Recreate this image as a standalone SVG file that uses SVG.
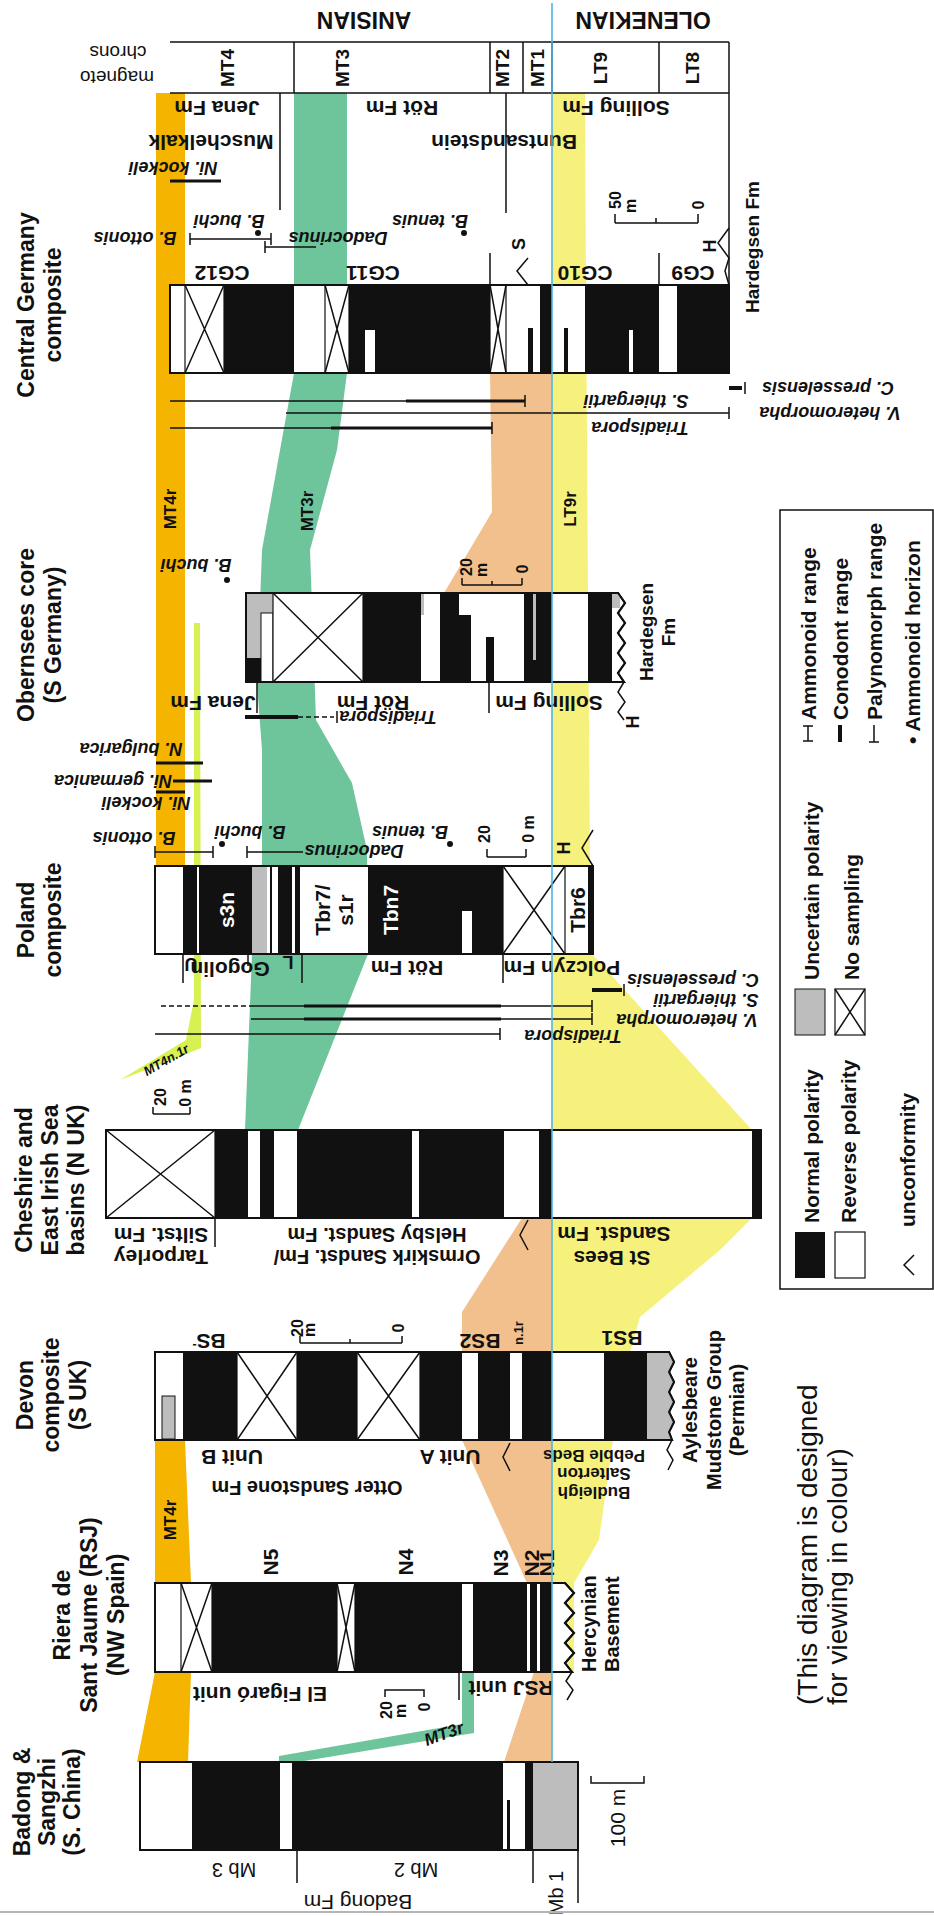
<svg xmlns="http://www.w3.org/2000/svg" width="934" height="1916" viewBox="0 0 934 1916">
<style>
text{font-family:"Liberation Sans",Arial,Helvetica,sans-serif;font-weight:bold;dominant-baseline:central;text-anchor:middle;fill:#111}
.n{font-weight:normal}
.it{font-style:italic}
.st{text-anchor:start}
.wt{fill:#fff}
.h{font-size:23px}
.f21{font-size:21px}
.f20{font-size:20px}
.f19{font-size:19px}
.f18{font-size:18px}
.f17{font-size:17px}
.f16{font-size:16px}
.f13{font-size:13px}
.note{font-size:28px;font-weight:normal}
.bar{fill:#fff;stroke:#111;stroke-width:2}
.k{fill:#111}
.g{fill:#bdbdbd}
.gs{fill:#bdbdbd;stroke:#111;stroke-width:1}
.xb{fill:#fff;stroke:#111;stroke-width:1.2}
.ln{stroke:#111;stroke-width:1.5;fill:none}
.tk{stroke:#111;stroke-width:4;fill:none}
.md{stroke:#111;stroke-width:3;fill:none}
.ds{stroke:#111;stroke-width:1.5;fill:none;stroke-dasharray:5 3}
.or{fill:#F5B400}
.gr{fill:#6EC59C}
.pe{fill:#F2C08C}
.ye{fill:#F6F17C}
.li{fill:#D6F152}
.bl{stroke:#4FB5E4;stroke-width:1.6}
</style>

<!-- correlation bands -->
<g id="bands">
<polygon class="ye" points="552,93 585,93 586,285 588,593 590,866 592,954 752,1130 752,1218 720,1250 640,1317 630,1352 613,1440 599,1540 574,1583 574,1672 552,1672"/>
<polygon class="pe" points="490,373 552,373 552,593 444,593 492,512"/>
<polygon class="pe" points="522,1218 552,1218 552,1352 462,1352 462,1312"/>
<polygon class="pe" points="462,1440 552,1440 552,1583 527,1583"/>
<polygon class="pe" points="534,1672 552,1672 552,1762 504,1762"/>
<polygon class="gr" points="294,93 347,93 347,373 337,450 310,550 316,720 352,783 367,850 368,954 298,1130 245,1130 252,954 262,866 262,750 257,683 262,550 280,450 294,373"/>
<polygon class="gr" points="462,1672 474,1672 474,1733 292,1763 279,1763 279,1756 462,1724"/>
<polygon class="or" points="156,93 185,93 185,866 156,866"/>
<polygon class="or" points="155,1440 185,1440 191,1583 191,1672 188,1762 137,1762 155,1672"/>
<polygon class="li" points="194,623 200,623 201,1048 120,1080 186,1040 194,1000"/>
<text class="f17" transform="translate(170,509) rotate(-90)">MT4r</text>
<text class="f17" transform="translate(307,511) rotate(-90)">MT3r</text>
<text class="f17" transform="translate(570,509) rotate(-90)">LT9r</text>
<text class="f17" transform="translate(170,1520) rotate(-90)">MT4r</text>
<text class="f13 it" transform="translate(166,1060) rotate(-30)">MT4n.1r</text>
<text class="f17 it" transform="translate(444,1734) rotate(-20)">MT3r</text>
</g>

<!-- time scale header -->
<g id="timescale">
<text class="h" transform="translate(643,20) rotate(180)">OLENEKIAN</text>
<text class="h" transform="translate(364,20) rotate(180)">ANISIAN</text>
<text class="f19 n" transform="translate(118,52) rotate(180)">chrons</text>
<text class="f19 n" transform="translate(117,77) rotate(180)">magneto</text>
<path class="ln" d="M170,42 H729 M170,93 H729 M294,42 V93 M490,42 V93 M523,42 V93 M552,42 V93 M659,42 V93 M729,42 V285"/>
<text class="f19" transform="translate(227,68) rotate(-90)">MT4</text>
<text class="f19" transform="translate(342,68) rotate(-90)">MT3</text>
<text class="f19" transform="translate(502,68) rotate(-90)">MT2</text>
<text class="f19" transform="translate(537,68) rotate(-90)">MT1</text>
<text class="f19" transform="translate(600,68) rotate(-90)">LT9</text>
<text class="f19" transform="translate(692,68) rotate(-90)">LT8</text>
</g>

<!-- Central Germany composite -->
<g id="central-germany">
<text class="h" transform="translate(26,305) rotate(-90)">Central Germany</text>
<text class="h" transform="translate(53,305) rotate(-90)">composite</text>
<path class="ln" d="M280,93 V210 M506,93 V213 M490,253 V285 M659,253 V285"/>
<text class="f21" transform="translate(217,108) rotate(180)">Jena Fm</text>
<text class="f21" transform="translate(402,108) rotate(180)">Röt Fm</text>
<text class="f21" transform="translate(616,108) rotate(180)">Solling Fm</text>
<text class="f21" transform="translate(211,142) rotate(180)">Muschelkalk</text>
<text class="f21" transform="translate(504,142) rotate(180)">Buntsandstein</text>
<text class="f18 it" transform="translate(173,168) rotate(180)">Ni. kockeli</text>
<path class="md" d="M170,181 H221"/>
<text class="f18 it" transform="translate(229,221) rotate(180)">B. buchi</text>
<circle cx="258" cy="233" r="3" class="k"/>
<text class="f18 it" transform="translate(135,238) rotate(180)">B. ottonis</text>
<path class="ln" d="M190,239 H271 M190,233 V245 M271,233 V245"/>
<text class="f18 it" transform="translate(338,238) rotate(180)">Dadocrinus</text>
<path class="ln" d="M265,247 H316 M265,241 V253"/>
<text class="f18 it" transform="translate(430,221) rotate(180)">B. tenuis</text>
<circle cx="464" cy="233" r="3" class="k"/>
<text class="f18" transform="translate(519,244) rotate(-90)">S</text>
<path class="ln" d="M528,258 L517,271 L528,285"/>
<text class="f21" transform="translate(222,273) rotate(180)">CG12</text>
<text class="f21" transform="translate(373,273) rotate(180)">CG11</text>
<text class="f21" transform="translate(585,273) rotate(180)">CG10</text>
<text class="f21" transform="translate(693,273) rotate(180)">CG9</text>
<path class="ln" d="M615,223 H698 M615,223 V214 M698,223 V214 M656,223 V218"/>
<text class="f16" transform="translate(615,200) rotate(-90)">50</text>
<text class="f16" transform="translate(630,206) rotate(-90)">m</text>
<text class="f16" transform="translate(698,205) rotate(-90)">0</text>
<text class="f18" transform="translate(710,246) rotate(-90)">H</text>
<path class="ln" d="M729,228 L718,243 L729,258 L725,271 L729,285"/>
<text class="f19" transform="translate(752,247) rotate(-90)">Hardegsen Fm</text>
<rect class="bar" x="170" y="285" width="559" height="88"/>
<rect class="k" x="224" y="285" width="70" height="88"/>
<rect class="k" x="349" y="285" width="141" height="88"/>
<rect class="k" x="540" y="285" width="12" height="88"/>
<rect class="k" x="585" y="285" width="74" height="88"/>
<rect class="k" x="677" y="285" width="52" height="88"/>
<rect fill="#fff" x="365" y="330" width="10" height="42"/>
<rect fill="#fff" x="629" y="330" width="4" height="42"/>
<rect class="k" x="528" y="328" width="5" height="45"/>
<rect class="k" x="564" y="328" width="4" height="45"/>
<rect class="xb" x="185" y="285" width="39" height="88"/><path class="ln" d="M185,285 L224,373 M224,285 L185,373" stroke-width="1.2"/>
<rect class="xb" x="325" y="285" width="24" height="88"/><path class="ln" d="M325,285 L349,373 M349,285 L325,373" stroke-width="1.2"/>
<rect class="xb" x="490" y="285" width="16" height="88"/><path class="ln" d="M490,285 L506,373 M506,285 L490,373" stroke-width="1.2"/>
<rect x="170" y="285" width="559" height="88" fill="none" stroke="#111" stroke-width="2"/>
<path class="tk" d="M729,388 H742"/><path class="ln" d="M745,382 V394"/>
<text class="f18 it" transform="translate(828,388) rotate(180)">C. presselensis</text>
<path class="ln" d="M170,401 H525 M525,395 V407"/><path class="md" d="M406,401 H525"/>
<text class="f18 it" transform="translate(636,401) rotate(180)">S. thiergartii</text>
<path class="ln" d="M286,413 H729 M729,407 V419"/>
<text class="f18 it" transform="translate(830,413) rotate(180)">V. heteromorpha</text>
<path class="ln" d="M170,428 H492 M492,422 V434"/><path class="md" d="M331,428 H492"/>
<text class="f18 it" transform="translate(640,428) rotate(180)">Triadispora</text>
</g>

<!-- Obernsees core -->
<g id="obernsees">
<text class="h" transform="translate(26,635) rotate(-90)">Obernsees core</text>
<text class="h" transform="translate(53,635) rotate(-90)">(S Germany)</text>
<text class="f18 it" transform="translate(196,565) rotate(180)">B. buchi</text>
<circle cx="227" cy="580" r="3" class="k"/>
<path class="ln" d="M462,585 H522 M462,585 V578 M522,585 V578 M492,585 V581"/>
<text class="f16" transform="translate(466,567) rotate(-90)">20</text>
<text class="f16" transform="translate(481,570) rotate(-90)">m</text>
<text class="f16" transform="translate(522,569) rotate(-90)">0</text>
<path class="bar" d="M246,593 H618 L625,603 L618,613 L625,623 L618,633 L625,643 L618,653 L625,663 L618,673 L624,682 H246 Z"/>
<rect class="g" x="246" y="593" width="27" height="20"/>
<rect class="g" x="246" y="613" width="15" height="45"/>
<rect class="k" x="246" y="658" width="15" height="24"/>
<rect fill="#fff" stroke="#111" stroke-width="1" x="261" y="613" width="12" height="69"/>
<rect class="xb" x="273" y="593" width="90" height="89"/><path class="ln" d="M273,593 L363,682 M363,593 L273,682" stroke-width="1.2"/>
<rect class="k" x="363" y="593" width="58" height="89"/>
<rect class="g" x="421" y="593" width="3" height="22"/>
<rect class="k" x="440" y="593" width="19" height="89"/>
<rect class="k" x="459" y="615" width="12" height="67"/>
<rect class="k" x="486" y="637" width="8" height="45"/>
<rect class="k" x="524" y="593" width="28" height="89"/>
<rect class="g" x="533" y="593" width="3" height="67"/>
<rect class="k" x="588" y="593" width="24" height="89"/>
<rect class="g" x="612" y="594" width="8" height="14"/>
<path d="M246,593 H618 L625,603 L618,613 L625,623 L618,633 L625,643 L618,653 L625,663 L618,673 L624,682 H246 Z" fill="none" stroke="#111" stroke-width="2"/>
<path class="ln" d="M624,682 L618,692 L625,702 L618,712 L624,720"/>
<text class="f18" transform="translate(633,722) rotate(-90)">H</text>
<text class="f19" transform="translate(646,632) rotate(-90)">Hardegsen</text>
<text class="f19" transform="translate(668,632) rotate(-90)">Fm</text>
<path class="ln" d="M257,682 V713 M489,682 V713"/>
<text class="f21" transform="translate(213,703) rotate(180)">Jena Fm</text>
<text class="f21" transform="translate(373,703) rotate(180)">Röt Fm</text>
<text class="f21" transform="translate(549,703) rotate(180)">Solling Fm</text>
<path class="tk" d="M245,717 H298"/><path class="ds" d="M298,717 H334"/><path class="ln" d="M337,711 V723"/>
<text class="f18 it" transform="translate(388,717) rotate(180)">Triadispora</text>
<text class="f18 it" transform="translate(131,749) rotate(180)">N. bulgarica</text>
<path class="md" d="M156,763 H203"/>
<text class="f18 it" transform="translate(113,781) rotate(180)">Ni. germanica</text>
<path class="md" d="M173,781 H212"/>
<path class="md" d="M156,792 H185"/>
<text class="f18 it" transform="translate(146,803) rotate(180)">Ni. kockeli</text>
</g>

<!-- Poland composite -->
<g id="poland">
<text class="h" transform="translate(26,920) rotate(-90)">Poland</text>
<text class="h" transform="translate(53,920) rotate(-90)">composite</text>
<text class="f18 it" transform="translate(134,838) rotate(180)">B. ottonis</text>
<path class="ln" d="M155,852 H213 M155,846 V858 M213,846 V858"/>
<text class="f18 it" transform="translate(250,832) rotate(180)">B. buchi</text>
<circle cx="222" cy="844" r="3" class="k"/>
<text class="f18 it" transform="translate(354,851) rotate(180)">Dadocrinus</text>
<path class="ln" d="M247,852 H303 M247,846 V858"/>
<text class="f18 it" transform="translate(410,832) rotate(180)">B. tenuis</text>
<circle cx="450" cy="844" r="3" class="k"/>
<path class="ln" d="M487,857 H526 M487,857 V849 M526,857 V849"/>
<text class="f16" transform="translate(484,834) rotate(-90)">20</text>
<text class="f16" transform="translate(528,829) rotate(-90)">0 m</text>
<text class="f18" transform="translate(564,848) rotate(-90)">H</text>
<path class="ln" d="M593,830 L582,848 L593,866"/>
<rect class="bar" x="155" y="866" width="438" height="88"/>
<rect class="k" x="183" y="866" width="69" height="88"/>
<rect fill="#fff" x="197" y="867" width="2" height="86"/>
<rect class="g" x="252" y="866" width="15" height="88"/>
<rect class="k" x="270" y="866" width="2" height="88"/>
<rect class="k" x="278" y="866" width="14" height="88"/>
<rect class="k" x="295" y="866" width="5" height="88"/>
<rect class="k" x="368" y="866" width="135" height="88"/>
<rect fill="#fff" x="462" y="911" width="10" height="42"/>
<rect class="xb" x="503" y="866" width="62" height="88"/><path class="ln" d="M503,866 L565,954 M565,866 L503,954" stroke-width="1.2"/>
<rect class="k" x="588" y="866" width="5" height="88"/>
<rect x="155" y="866" width="438" height="88" fill="none" stroke="#111" stroke-width="2"/>
<text class="f21 wt" transform="translate(226,910) rotate(-90)">s3n</text>
<text class="f21" transform="translate(322,910) rotate(-90)">Tbr7/</text>
<text class="f21" transform="translate(345,910) rotate(-90)">s1r</text>
<text class="f21 wt" transform="translate(390,910) rotate(-90)">Tbn7</text>
<text class="f21" transform="translate(577,910) rotate(-90)">Tbr6</text>
<path class="ln" d="M183,954 V983 M248,954 V966 M302,954 V983 M503,954 V983"/>
<text class="f18" transform="translate(191,964) rotate(180)">U</text>
<text class="f21" transform="translate(230,969) rotate(180)">Gogolin</text>
<text class="f18" transform="translate(288,962) rotate(180)">L</text>
<text class="f21" transform="translate(407,968) rotate(180)">Röt Fm</text>
<text class="f21" transform="translate(562,968) rotate(180)">Polczyn Fm</text>
<path class="tk" d="M592,990 H622"/><path class="ln" d="M624,984 V996"/>
<text class="f18 it" transform="translate(693,980) rotate(180)">C. presselensis</text>
<path class="ds" d="M161,1006 H251"/><path class="ln" d="M251,1006 H592 M592,1000 V1012"/><path class="md" d="M304,1006 H501"/>
<text class="f18 it" transform="translate(706,1000) rotate(180)">S. thiergartii</text>
<path class="ln" d="M251,1019 H592 M592,1013 V1025"/><path class="md" d="M304,1019 H501"/>
<text class="f18 it" transform="translate(687,1020) rotate(180)">V. heteromorpha</text>
<path class="ln" d="M155,1034 H500 M500,1028 V1040"/>
<text class="f18 it" transform="translate(573,1036) rotate(180)">Triadispora</text>
</g>

<!-- Cheshire and East Irish Sea basins -->
<g id="cheshire">
<text class="h" transform="translate(24,1180) rotate(-90)">Cheshire and</text>
<text class="h" transform="translate(50,1180) rotate(-90)">East Irish Sea</text>
<text class="h" transform="translate(76,1180) rotate(-90)">basins (N UK)</text>
<path class="ln" d="M153,1114 H190 M153,1114 V1107 M190,1114 V1107"/>
<text class="f16" transform="translate(160,1097) rotate(-90)">20</text>
<text class="f16" transform="translate(185,1093) rotate(-90)">0 m</text>
<rect class="bar" x="106" y="1130" width="655" height="88"/>
<rect class="xb" x="106" y="1130" width="109" height="88"/><path class="ln" d="M106,1130 L215,1218 M215,1130 L106,1218" stroke-width="1.2"/>
<rect class="k" x="215" y="1130" width="33" height="88"/>
<rect class="k" x="260" y="1130" width="14" height="88"/>
<rect class="k" x="297" y="1130" width="115" height="88"/>
<rect class="k" x="419" y="1130" width="85" height="88"/>
<rect class="k" x="539" y="1130" width="13" height="88"/>
<rect class="k" x="752" y="1130" width="9" height="88"/>
<rect x="106" y="1130" width="655" height="88" fill="none" stroke="#111" stroke-width="2"/>
<path class="ln" d="M215,1218 V1247"/>
<text class="f21" transform="translate(161,1235) rotate(180)">Siltst. Fm</text>
<text class="f21" transform="translate(161,1257) rotate(180)">Tarporley</text>
<text class="f20" transform="translate(377,1235) rotate(180)">Helsby Sandst. Fm</text>
<text class="f20" transform="translate(377,1257) rotate(180)">Ormskirk Sandst. Fm/</text>
<path class="ln" d="M528,1220 L520,1235 L528,1250"/>
<text class="f21" transform="translate(614,1234) rotate(180)">Sandst. Fm</text>
<text class="f21" transform="translate(612,1258) rotate(180)">St Bees</text>
</g>

<!-- Devon composite -->
<g id="devon">
<text class="h" transform="translate(25,1395) rotate(-90)">Devon</text>
<text class="h" transform="translate(51,1395) rotate(-90)">composite</text>
<text class="h" transform="translate(78,1395) rotate(-90)">(S UK)</text>
<text class="f21" transform="translate(209,1341) rotate(180)">BS<tspan font-size="12" dy="-4">-</tspan></text>
<text class="f21" transform="translate(480,1341) rotate(180)">BS2</text>
<text class="f13" transform="translate(518,1333) rotate(-90)">n.1r</text>
<text class="f21" transform="translate(622,1338) rotate(180)">BS1</text>
<path class="ln" d="M300,1343 H402 M300,1343 V1336 M402,1343 V1336 M350,1343 V1339"/>
<text class="f16" transform="translate(297,1328) rotate(-90)">20</text>
<text class="f16" transform="translate(309,1330) rotate(-90)">m</text>
<text class="f16" transform="translate(398,1328) rotate(-90)">0</text>
<path class="bar" d="M155,1352 H669 L674,1362 L669,1372 L674,1382 L669,1392 L674,1402 L669,1412 L674,1422 L669,1432 L672,1440 H155 Z"/>
<path class="g" d="M647,1352 H669 L674,1362 L669,1372 L674,1382 L669,1392 L674,1402 L669,1412 L674,1422 L669,1432 L672,1440 H647 Z"/>
<rect class="gs" x="162" y="1396" width="13" height="43"/>
<rect class="k" x="183" y="1352" width="54" height="88"/>
<rect class="xb" x="237" y="1352" width="60" height="88"/><path class="ln" d="M237,1352 L297,1440 M297,1352 L237,1440" stroke-width="1.2"/>
<rect class="k" x="297" y="1352" width="60" height="88"/>
<rect class="xb" x="357" y="1352" width="63" height="88"/><path class="ln" d="M357,1352 L420,1440 M420,1352 L357,1440" stroke-width="1.2"/>
<rect class="k" x="420" y="1352" width="42" height="88"/>
<rect class="k" x="478" y="1352" width="32" height="88"/>
<rect class="k" x="522" y="1352" width="30" height="88"/>
<rect class="k" x="604" y="1352" width="43" height="88"/>
<path d="M155,1352 H669 L674,1362 L669,1372 L674,1382 L669,1392 L674,1402 L669,1412 L674,1422 L669,1432 L672,1440 H155 Z" fill="none" stroke="#111" stroke-width="2"/>
<path class="ln" d="M672,1440 L667,1450 L673,1460 L668,1470"/>
<text class="f21" transform="translate(232,1457) rotate(180)">Unit B</text>
<text class="f21" transform="translate(450,1457) rotate(180)">Unit A</text>
<path class="ln" d="M510,1443 L503,1457 L510,1471"/>
<text class="f20" transform="translate(307,1488) rotate(180)">Otter Sandstone Fm</text>
<text class="f17" transform="translate(594,1455) rotate(180)">Pebble Beds</text>
<text class="f17" transform="translate(594,1473) rotate(180)">Salterton</text>
<text class="f17" transform="translate(594,1492) rotate(180)">Budleigh</text>
<text class="f20" transform="translate(690,1410) rotate(-90)">Aylesbeare</text>
<text class="f20" transform="translate(714,1410) rotate(-90)">Mudstone Group</text>
<text class="f20" transform="translate(737,1410) rotate(-90)">(Permian)</text>
</g>

<!-- Riera de Sant Jaume -->
<g id="riera">
<text class="h" transform="translate(62,1615) rotate(-90)">Riera de</text>
<text class="h" transform="translate(89,1615) rotate(-90)">Sant Jaume (RSJ)</text>
<text class="h" transform="translate(116,1615) rotate(-90)">(NW Spain)</text>
<text class="f21" transform="translate(270,1562) rotate(-90)">N5</text>
<text class="f21" transform="translate(405,1562) rotate(-90)">N4</text>
<text class="f21" transform="translate(500,1563) rotate(-90)">N3</text>
<text class="f21" transform="translate(531,1563) rotate(-90)">N2</text>
<text class="f21" transform="translate(546,1563) rotate(-90)">N1</text>
<path class="bar" d="M155,1583 H565 L574,1593 L565,1603 L574,1613 L565,1623 L574,1633 L565,1643 L574,1653 L565,1663 L572,1672 H155 Z"/>
<rect class="xb" x="181" y="1583" width="31" height="89"/><path class="ln" d="M181,1583 L212,1672 M212,1583 L181,1672" stroke-width="1.2"/>
<rect class="k" x="212" y="1583" width="125" height="89"/>
<rect class="xb" x="337" y="1583" width="18" height="89"/><path class="ln" d="M337,1583 L355,1672 M355,1583 L337,1672" stroke-width="1.2"/>
<rect class="k" x="355" y="1583" width="107" height="89"/>
<rect class="k" x="473" y="1583" width="54" height="89"/>
<rect class="k" x="530" y="1583" width="7" height="89"/>
<rect class="k" x="540" y="1583" width="12" height="89"/>
<path d="M155,1583 H565 L574,1593 L565,1603 L574,1613 L565,1623 L574,1633 L565,1643 L574,1653 L565,1663 L572,1672 H155 Z" fill="none" stroke="#111" stroke-width="2"/>
<path class="ln" d="M572,1672 L566,1681 L573,1690 L567,1700"/>
<text class="f20 st" transform="translate(589,1672) rotate(-90)">Hercynian</text>
<text class="f20 st" transform="translate(612,1672) rotate(-90)">Basement</text>
<path class="ln" d="M459,1672 V1700"/>
<text class="f21" transform="translate(260,1694) rotate(180)">El Figaró unit</text>
<text class="f21" transform="translate(511,1688) rotate(180)">RSJ unit</text>
<path class="ln" d="M385,1697 V1690 H424 V1697"/>
<text class="f16" transform="translate(386,1710) rotate(-90)">20</text>
<text class="f16" transform="translate(400,1711) rotate(-90)">m</text>
<text class="f16" transform="translate(424,1707) rotate(-90)">0</text>
</g>

<!-- Badong & Sangzhi -->
<g id="badong">
<text class="h" transform="translate(22,1802) rotate(-90)">Badong &amp;</text>
<text class="h" transform="translate(47,1802) rotate(-90)">Sangzhi</text>
<text class="h" transform="translate(72,1802) rotate(-90)">(S. China)</text>
<rect class="bar" x="140" y="1762" width="438" height="88"/>
<rect class="k" x="192" y="1762" width="88" height="88"/>
<rect class="k" x="292" y="1762" width="211" height="88"/>
<rect class="k" x="507" y="1800" width="3" height="50"/>
<rect class="k" x="525" y="1762" width="8" height="88"/>
<rect class="g" x="533" y="1762" width="45" height="88"/>
<rect x="140" y="1762" width="438" height="88" fill="none" stroke="#111" stroke-width="2"/>
<path class="ln" d="M297,1850 V1883 M533,1850 V1883 M578,1850 V1903"/>
<text class="f20 n" transform="translate(234,1870) rotate(180)">Mb 3</text>
<text class="f20 n" transform="translate(416,1870) rotate(180)">Mb 2</text>
<text class="f20 n" transform="translate(556,1893) rotate(-90)">Mb 1</text>
<text class="f21 n" transform="translate(358,1902) rotate(180)">Badong Fm</text>
<path class="ln" d="M591,1776 V1783 H644 V1776"/>
<text class="f21 n" transform="translate(617,1818) rotate(-90)">100 m</text>
</g>

<!-- stage boundary -->
<g id="boundary">
<line class="bl" x1="552" y1="3" x2="552" y2="1762"/>
</g>

<!-- legend -->
<g id="legend">
<rect x="780" y="510" width="153" height="779" fill="none" stroke="#111" stroke-width="1.5"/>
<text class="f21 st" transform="translate(808,720) rotate(-90)">Ammonoid range</text>
<path class="ln" d="M808,726 V741 M803,726 H813 M803,741 H813"/>
<text class="f21 st" transform="translate(840,720) rotate(-90)">Conodont range</text>
<path class="tk" d="M840,725 V742"/>
<text class="f21 st" transform="translate(874,720) rotate(-90)">Palynomorph range</text>
<path class="ln" d="M874,725 V742 M869,742 H879"/>
<text class="f21 st" transform="translate(912,744) rotate(-90)">• Ammonoid horizon</text>
<text class="f21 st" transform="translate(811,980) rotate(-90)">Uncertain polarity</text>
<rect class="gs" x="795" y="989" width="30" height="46" stroke-width="1.5"/>
<text class="f21 st" transform="translate(851,980) rotate(-90)">No sampling</text>
<rect class="xb" x="835" y="989" width="30" height="46" stroke-width="1.5"/><path class="ln" d="M835,989 L865,1035 M865,989 L835,1035" stroke-width="1.2"/>
<text class="f21 st" transform="translate(811,1223) rotate(-90)">Normal polarity</text>
<rect class="k" x="795" y="1232" width="30" height="46"/>
<text class="f21 st" transform="translate(848,1223) rotate(-90)">Reverse polarity</text>
<rect class="xb" x="835" y="1232" width="30" height="46" stroke-width="1.5"/>
<text class="f21 st" transform="translate(907,1227) rotate(-90)">unconformity</text>
<path class="ln" d="M914,1255 L904,1265 L914,1275"/>
</g>

<g id="note">
<text class="note st" transform="translate(807,1705) rotate(-90)">(This diagram is designed</text>
<text class="note st" transform="translate(837,1705) rotate(-90)">for viewing in colour)</text>
</g>
<line x1="0" y1="1912" x2="934" y2="1912" stroke="#b5b5b5" stroke-width="2"/>
</svg>
